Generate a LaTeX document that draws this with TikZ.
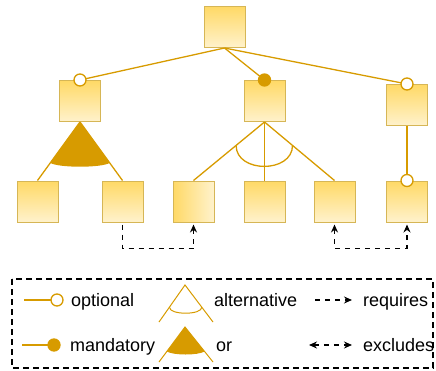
\documentclass[tikz,border=0pt]{standalone}
\usepackage{fontspec}
\setmainfont{Liberation Sans}
\usetikzlibrary{arrows.meta,calc}
\definecolor{gold}{HTML}{D79B00}
\definecolor{boxline}{HTML}{D6B656}
\definecolor{boxtop}{HTML}{FFD966}
\definecolor{boxbot}{HTML}{FFF2CC}
\newcommand{\feat}[3]{
\node[feat,top color=boxtop,bottom color=boxbot] (#1) at (#2,#3) {};}
\newcommand{\opt}[1]{
\draw[link,fill=white] (#1) circle (6);}
\newcommand{\man}[1]{
\draw[link,fill=gold] (#1) circle (6);}
\tikzset{
feat/.style={draw=boxline,line width=1,minimum size=41,inner sep=0},
link/.style={draw=gold,line width=1.3},
dep/.style={line width=1.7,dash pattern=on 5pt off 5pt},
lbl/.style={anchor=base west,inner sep=0,font=\fontsize{18}{21}\selectfont}}

\begin{document}
\begin{tikzpicture}[x=1pt,y=-1pt,>={Stealth[length=8pt,width=7pt]}]
\useasboundingbox (0,0) rectangle (436,370);

\feat{root}{224.5}{27}
\feat{a}{80}{101}
\feat{b}{264.5}{101}
\feat{c}{407}{105}
\feat{d1}{37.5}{201.5}
\feat{d2}{122.5}{201.5}
\node[feat,left color=boxtop,right color=boxbot] (d3) at (193.5,201.5) {};
\feat{d4}{264.5}{201.5}
\feat{d5}{334.5}{201.5}
\feat{d6}{407}{201.5}

\foreach \k in {a,b,c}{
	\draw[link] (root.south)--(\k.north);
}
\opt{a.north}
\man{b.north}
\opt{c.north}

\foreach \k in {d1,d2}{
	\draw[link] (a.south)--(\k.north);
}
\coordinate (o1) at ($(a.south)!0.7!(d1.north)$);
\coordinate (o2) at ($(a.south)!0.7!(d2.north)$);
\fill[gold] (a.south) -- (o1) .. controls ($(o1)+(9,5)$) and ($(o2)+(-9,5)$) .. (o2) -- cycle;

\foreach \k in {d3,d4,d5}{
	\draw[link] (b.south)--(\k.north);
}
\coordinate (x1) at ($(b.south)!0.4!(d3.north)$);
\coordinate (x2) at ($(b.south)!0.4!(d5.north)$);
\draw[link] (x1) .. controls ($(x1)+(0,28)$) and ($(x2)+(0,28)$) .. (x2);

\draw[link] (c.south)--(d6.north);
\opt{d6.north}

\draw[dep,->,shorten <=2pt,shorten >=2pt] (d2.south) -- ++(0,26) -| (d3.south);
\draw[dep,<->,shorten <=2pt,shorten >=2pt] (d5.south) -- ++(0,26) -| (d6.south);

\draw[line width=1.2,dash pattern=on 6pt off 4pt] (12,279) rectangle (433,368);

\coordinate (lo) at (24,300);
\coordinate (lc) at (57,300);
\draw[link] (lo)--(lc);
\opt{lc}
\node[lbl] (topt) at (71,306.5) {optional};

\coordinate (lm) at (22,345);
\coordinate (ld) at (54,345);
\draw[link] (lm)--(ld);
\man{ld}
\node[lbl] (tman) at (70,351.5) {mandatory};

\coordinate (la) at (185,285);
\coordinate (la1) at (159,322);
\coordinate (la2) at (213,322);
\draw[link,line width=1] (la1)--(la)--(la2);
\coordinate (lx1) at ($(la)!0.6!(la1)$);
\coordinate (lx2) at ($(la)!0.6!(la2)$);
\draw[link,line width=1] (lx1) .. controls ($(lx1)+(0,8)$) and ($(lx2)+(0,8)$) .. (lx2);
\node[lbl] (talt) at (214,306.5) {alternative};

\coordinate (lb) at (185,327);
\coordinate (lb1) at (159,362);
\coordinate (lb2) at (213,362);
\draw[link,line width=1] (lb1)--(lb)--(lb2);
\coordinate (ly1) at ($(lb)!0.7!(lb1)$);
\coordinate (ly2) at ($(lb)!0.7!(lb2)$);
\fill[gold] (lb) -- (ly1) .. controls ($(ly1)+(7,4)$) and ($(ly2)+(-7,4)$) .. (ly2) -- cycle;
\node[lbl] (tor) at (216,351.5) {or};

\coordinate (rq1) at (315,300);
\coordinate (rq2) at (352,300);
\draw[dep,->] (rq1)--(rq2);
\node[lbl] (treq) at (363,306.5) {requires};

\coordinate (ex1) at (309,345);
\coordinate (ex2) at (352,345);
\draw[dep,<->] (ex1)--(ex2);
\node[lbl] (texc) at (363,351.5) {excludes};

\end{tikzpicture}
\end{document}
